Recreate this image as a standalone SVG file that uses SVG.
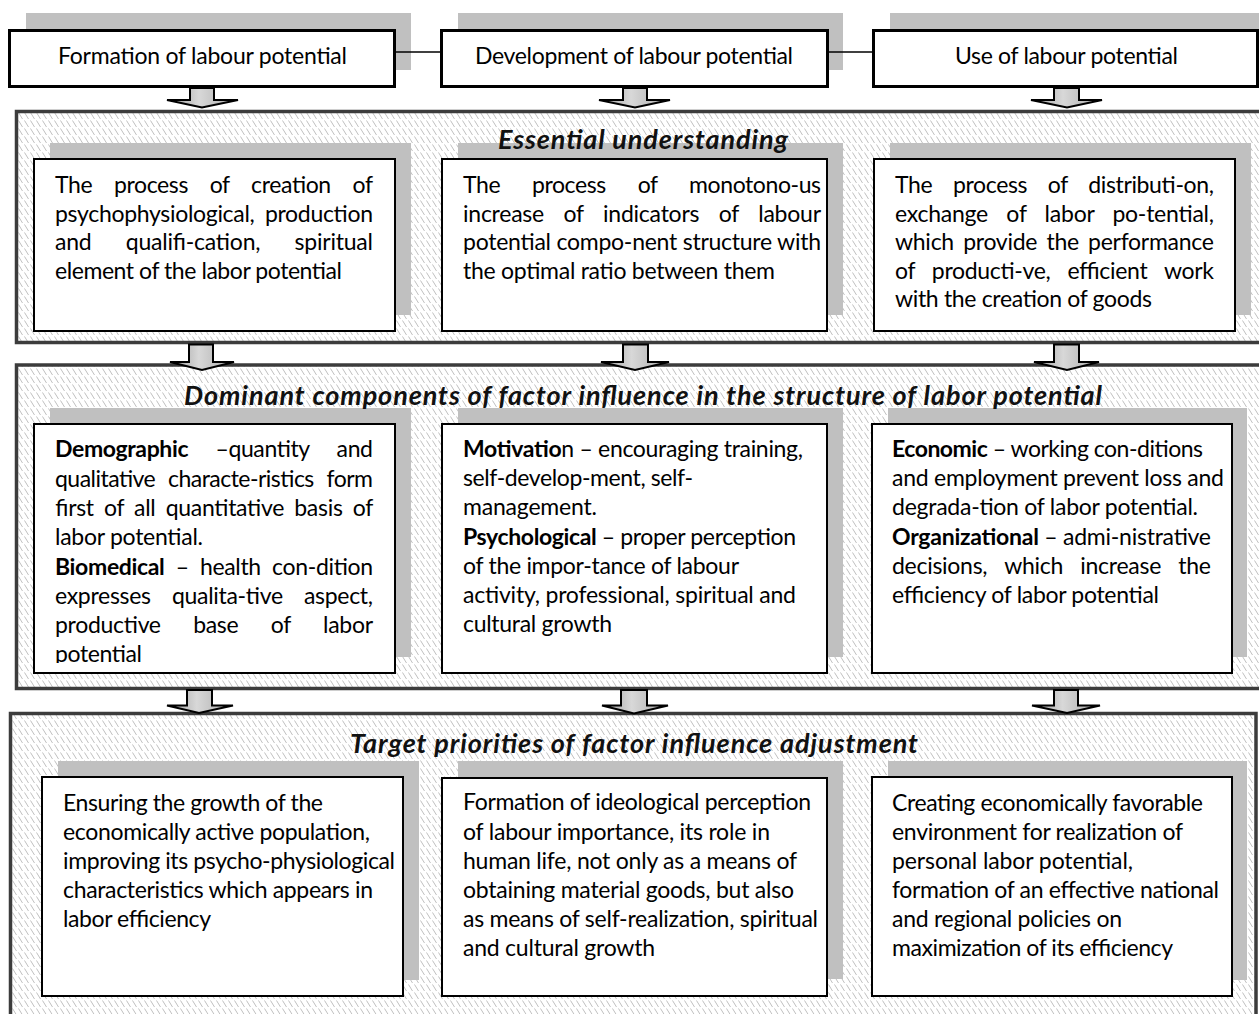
<svg xmlns="http://www.w3.org/2000/svg" width="1259" height="1014" viewBox="0 0 1259 1014">
<defs>
<pattern id="hatch" patternUnits="userSpaceOnUse" width="6" height="8">
<rect width="6" height="8" fill="#ffffff"/>
<line x1="0.5" y1="0.5" x2="4.5" y2="7" stroke="#b8b8b8" stroke-width="0.9"/>
</pattern>
<linearGradient id="ag" x1="0" y1="0" x2="1" y2="0">
<stop offset="0" stop-color="#9a9a9a"/>
<stop offset="0.45" stop-color="#d8d8d8"/>
<stop offset="1" stop-color="#a8a8a8"/>
</linearGradient>
<clipPath id="clipDemo"><rect x="34" y="424" width="361" height="239"/></clipPath>
</defs>
<style>
.sec{fill:url(#hatch);stroke:#3c3c3c;stroke-width:3.5}
.sh{fill:#c0c0c0}
.top{fill:#ffffff;stroke:#000;stroke-width:3}
.box{fill:#ffffff;stroke:#000;stroke-width:2}
.t{font-family:Lato,"Open Sans",sans-serif;font-size:23px;fill:#000}
.h{font-family:Lato,"Open Sans",sans-serif;font-size:27px;font-weight:bold;font-style:italic;fill:#111}
.b{font-weight:bold}
.arr{fill:url(#ag);stroke:#000;stroke-width:2;stroke-linejoin:miter}
.ln{stroke:#000;stroke-width:1.5;fill:none}
</style>
<rect width="1259" height="1014" fill="#ffffff"/>

<!-- Top row -->
<g id="node-formation">
<rect class="sh" x="26" y="13" width="385" height="57"/>
<rect class="top" x="9.5" y="30.5" width="385" height="56"/>
<text class="t" x="202.5" y="64" text-anchor="middle" textLength="289" lengthAdjust="spacing">Formation of labour potential</text>
</g>
<g id="node-development">
<rect class="sh" x="458" y="13" width="385" height="57"/>
<rect class="top" x="441.5" y="30.5" width="386" height="56"/>
<text class="t" x="634" y="64" text-anchor="middle" textLength="318" lengthAdjust="spacing">Development of labour potential</text>
</g>
<g id="node-use">
<rect class="sh" x="890" y="13" width="380" height="57"/>
<rect class="top" x="873.5" y="30.5" width="384" height="56"/>
<text class="t" x="1066.5" y="64" text-anchor="middle" textLength="223" lengthAdjust="spacing">Use of labour potential</text>
</g>

<!-- Section 1 -->
<g id="node-essential">
<rect class="sec" x="16.5" y="111.5" width="1250" height="231"/>
<rect class="sh" x="50" y="143" width="361" height="172"/>
<rect class="sh" x="458" y="143" width="385" height="172"/>
<rect class="sh" x="890" y="143" width="361" height="172"/>
<text class="h" x="643" y="149" text-anchor="middle" textLength="290" lengthAdjust="spacing">Essential understanding</text>
<rect class="box" x="34" y="159" width="361" height="172"/>
<rect class="box" x="442" y="159" width="385" height="172"/>
<rect class="box" x="874" y="159" width="361" height="172"/>
<g class="t">
<text y="193" x="55" textLength="318" lengthAdjust="spacing" style="word-spacing:16.2px">The process of creation of</text>
<text y="221.5" x="55" textLength="318" lengthAdjust="spacing" style="word-spacing:4.9px">psychophysiological, production</text>
<text y="250" x="55" textLength="318" lengthAdjust="spacing" style="word-spacing:28.6px">and qualifi-cation, spiritual</text>
<text y="278.5" x="55" textLength="287" lengthAdjust="spacing">element of the labor potential</text>

<text y="193" x="463" textLength="358" lengthAdjust="spacing" style="word-spacing:26.4px">The process of monotono-us</text>
<text y="221.5" x="463" textLength="358" lengthAdjust="spacing" style="word-spacing:13.9px">increase of indicators of labour</text>
<text y="250" x="463" textLength="358" lengthAdjust="spacing">potential compo-nent structure with</text>
<text y="278.5" x="463" textLength="312" lengthAdjust="spacing">the optimal ratio between them</text>

<text y="193" x="895" textLength="319" lengthAdjust="spacing" style="word-spacing:15.1px">The process of distributi-on,</text>
<text y="221.5" x="895" textLength="319" lengthAdjust="spacing" style="word-spacing:12.7px">exchange of labor po-tential,</text>
<text y="250" x="895" textLength="319" lengthAdjust="spacing" style="word-spacing:3.6px">which provide the performance</text>
<text y="278.5" x="895" textLength="319" lengthAdjust="spacing" style="word-spacing:11.5px">of producti-ve, efficient work</text>
<text y="307" x="895" textLength="257" lengthAdjust="spacing">with the creation of goods</text>
</g>
</g>

<!-- Section 2 -->
<g id="node-dominant">
<rect class="sec" x="16.5" y="365" width="1250" height="323.5"/>
<rect class="sh" x="50" y="408" width="361" height="249"/>
<rect class="sh" x="458" y="408" width="385" height="249"/>
<rect class="sh" x="888" y="408" width="359" height="249"/>
<text class="h" x="643" y="404.5" text-anchor="middle" textLength="918" lengthAdjust="spacing">Dominant components of factor influence in the structure of labor potential</text>
<rect class="box" x="34" y="424" width="361" height="249"/>
<rect class="box" x="442" y="424" width="385" height="249"/>
<rect class="box" x="872" y="424" width="360" height="249"/>
<g class="t" clip-path="url(#clipDemo)">
<text y="457.3" x="55" textLength="318" lengthAdjust="spacing" style="word-spacing:21.8px"><tspan class="b">Demographic</tspan> –quantity and</text>
<text y="486.5" x="55" textLength="318" lengthAdjust="spacing" style="word-spacing:7.4px">qualitative characte-ristics form</text>
<text y="515.7" x="55" textLength="318" lengthAdjust="spacing" style="word-spacing:4.6px">first of all quantitative basis of</text>
<text y="545" x="55" textLength="148" lengthAdjust="spacing">labor potential.</text>
<text y="574.5" x="55" textLength="318" lengthAdjust="spacing" style="word-spacing:5.7px"><tspan class="b">Biomedical</tspan> – health con-dition</text>
<text y="603.7" x="55" textLength="318" lengthAdjust="spacing" style="word-spacing:15.6px">expresses qualita-tive aspect,</text>
<text y="633" x="55" textLength="318" lengthAdjust="spacing" style="word-spacing:26.8px">productive base of labor</text>
<text y="662" x="55" textLength="87" lengthAdjust="spacing">potential</text>
</g>
<g class="t">
<text y="457" x="463" textLength="340" lengthAdjust="spacing"><tspan class="b">Motivatio</tspan>n – encouraging training,</text>
<text y="486" x="463" textLength="230" lengthAdjust="spacing">self-develop-ment, self-</text>
<text y="515" x="463" textLength="134" lengthAdjust="spacing">management.</text>
<text y="545" x="463" textLength="333" lengthAdjust="spacing"><tspan class="b">Psychological</tspan> – proper perception</text>
<text y="573.5" x="463" textLength="276" lengthAdjust="spacing">of the impor-tance of labour</text>
<text y="603" x="463" textLength="333" lengthAdjust="spacing">activity, professional, spiritual and</text>
<text y="632" x="463" textLength="149" lengthAdjust="spacing">cultural growth</text>

<text y="457" x="892" textLength="311" lengthAdjust="spacing"><tspan class="b">Economic</tspan> – working con-ditions</text>
<text y="486" x="892" textLength="332" lengthAdjust="spacing">and employment prevent loss and</text>
<text y="515" x="892" textLength="306" lengthAdjust="spacing">degrada-tion of labor potential.</text>
<text y="544.5" x="892" textLength="319" lengthAdjust="spacing"><tspan class="b">Organizational</tspan> – admi-nistrative</text>
<text y="573.5" x="892" textLength="319" lengthAdjust="spacing" style="word-spacing:11.7px">decisions, which increase the</text>
<text y="603" x="892" textLength="267" lengthAdjust="spacing">efficiency of labor potential</text>
</g>
</g>

<!-- Section 3 -->
<g id="node-target">
<rect class="sec" x="10.5" y="713.5" width="1245.5" height="320"/>
<rect class="sh" x="58" y="761" width="361" height="219"/>
<rect class="sh" x="458" y="761" width="385" height="218"/>
<rect class="sh" x="888" y="761" width="359" height="219"/>
<text class="h" x="634" y="753" text-anchor="middle" textLength="568" lengthAdjust="spacing">Target priorities of factor influence adjustment</text>
<rect class="box" x="42" y="777" width="361" height="219"/>
<rect class="box" x="442" y="778" width="385" height="218"/>
<rect class="box" x="872" y="777" width="360" height="219"/>
<g class="t">
<text y="810.5" x="63" textLength="260" lengthAdjust="spacing">Ensuring the growth of the</text>
<text y="839.7" x="63" textLength="307" lengthAdjust="spacing">economically active population,</text>
<text y="869" x="63" textLength="332" lengthAdjust="spacing">improving its psycho-physiological</text>
<text y="898" x="63" textLength="310" lengthAdjust="spacing">characteristics which appears in</text>
<text y="927" x="63" textLength="148" lengthAdjust="spacing">labor efficiency</text>

<text y="810" x="463" textLength="348" lengthAdjust="spacing">Formation of ideological perception</text>
<text y="839.5" x="463" textLength="307" lengthAdjust="spacing">of labour importance, its role in</text>
<text y="869" x="463" textLength="334" lengthAdjust="spacing">human life, not only as a means of</text>
<text y="898" x="463" textLength="331" lengthAdjust="spacing">obtaining material goods, but also</text>
<text y="927" x="463" textLength="355" lengthAdjust="spacing">as means of self-realization, spiritual</text>
<text y="956" x="463" textLength="192" lengthAdjust="spacing">and cultural growth</text>

<text y="810.5" x="892" textLength="311" lengthAdjust="spacing">Creating economically favorable</text>
<text y="839.7" x="892" textLength="291" lengthAdjust="spacing">environment for realization of</text>
<text y="869" x="892" textLength="241" lengthAdjust="spacing">personal labor potential,</text>
<text y="898" x="892" textLength="327" lengthAdjust="spacing">formation of an effective national</text>
<text y="927" x="892" textLength="230" lengthAdjust="spacing">and regional policies on</text>
<text y="956" x="892" textLength="281" lengthAdjust="spacing">maximization of its efficiency</text>
</g>
</g>

<!-- Connectors -->
<g id="connectors">
<line class="ln" x1="395" y1="52" x2="441" y2="52"/>
<line class="ln" x1="828" y1="52" x2="873" y2="52"/>
<path class="arr" d="M190,88 L214,88 L214,100 L238,100 L202,107.5 L167,100 L190,100 Z"/>
<path class="arr" d="M623,88 L647,88 L647,100 L670,100 L635,107.5 L599,100 L623,100 Z"/>
<path class="arr" d="M1054,88 L1079,88 L1079,100 L1102,100 L1067,107.5 L1031,100 L1054,100 Z"/>
<path class="arr" d="M189,344.5 L213,344.5 L213,362 L234,362 L202,370 L170,362 L189,362 Z"/>
<path class="arr" d="M623,344.5 L648,344.5 L648,362 L669,362 L635,370 L601,362 L623,362 Z"/>
<path class="arr" d="M1054,344.5 L1079,344.5 L1079,362 L1099,362 L1067,370 L1034,362 L1054,362 Z"/>
<path class="arr" d="M187,690 L212,690 L212,705.5 L233,705.5 L199,713 L167,705.5 L187,705.5 Z"/>
<path class="arr" d="M621,690 L647,690 L647,705.5 L668,705.5 L634,713.5 L602,705.5 L621,705.5 Z"/>
<path class="arr" d="M1054,690 L1078,690 L1078,705.5 L1100,705.5 L1067,713 L1032,705.5 L1054,705.5 Z"/>
</g>
</svg>
